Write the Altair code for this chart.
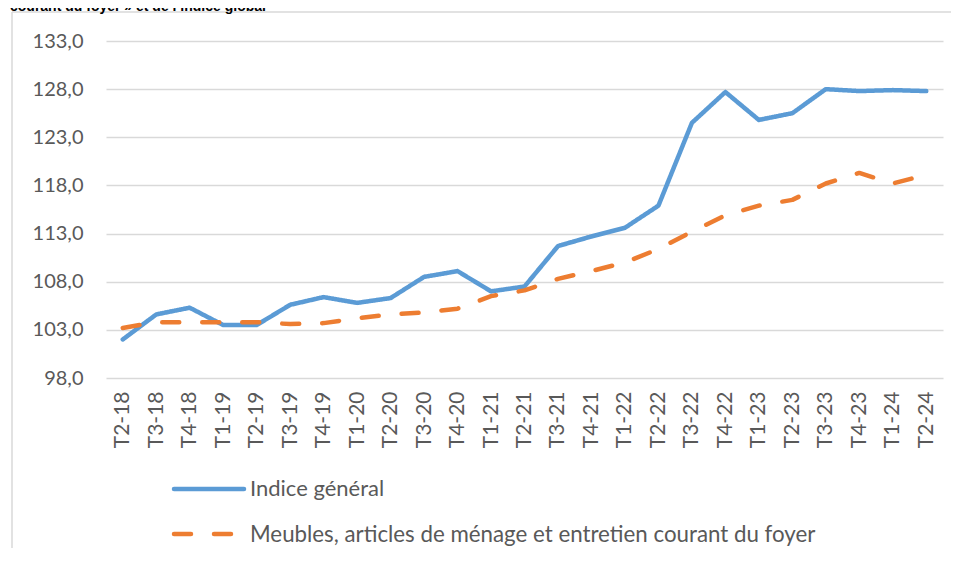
import altair as alt
import pandas as pd

quarters = ["T2-18", "T3-18", "T4-18", "T1-19", "T2-19", "T3-19", "T4-19", "T1-20",
            "T2-20", "T3-20", "T4-20", "T1-21", "T2-21", "T3-21", "T4-21", "T1-22",
            "T2-22", "T3-22", "T4-22", "T1-23", "T2-23", "T3-23", "T4-23", "T1-24", "T2-24"]
indice_general = [102.0, 104.6, 105.3, 103.5, 103.5, 105.6, 106.4, 105.8, 106.3, 108.5,
                  109.1, 107.0, 107.5, 111.7, 112.7, 113.6, 115.9, 124.5, 127.7, 124.8,
                  125.5, 128.0, 127.8, 127.9, 127.8]
meubles = [103.2, 103.8, 103.8, 103.8, 103.8, 103.6, 103.7, 104.2, 104.6, 104.8,
           105.2, 106.5, 107.1, 108.3, 109.1, 110.0, 111.4, 113.2, 114.9, 115.9,
           116.5, 118.2, 119.3, 118.2, 119.1]
series_names = ["Indice général",
                "Meubles, articles de ménage et entretien courant du foyer"]
y_ticks = [98, 103, 108, 113, 118, 123, 128, 133]
title_text = ["courant du foyer » et de l’indice global"]

BLUE = "#5B9BD5"
ORANGE = "#ED7D31"
GREY = "#595959"
GRID = "#D9D9D9"
FONT = "Lato"
DASH = [17, 23]

rows = []
for q, v in zip(quarters, indice_general):
    rows.append({"q": q, "v": v, "s": series_names[0]})
for q, v in zip(quarters, meubles):
    rows.append({"q": q, "v": v, "s": series_names[1]})
df = pd.DataFrame(rows)

x_enc = alt.X("q:N", sort=quarters, title=None,
              scale=alt.Scale(type="point", padding=0.5),
              axis=alt.Axis(labelAngle=-90, labelFont=FONT, labelFontSize=21,
                            labelColor=GREY, labelPadding=13, ticks=False,
                            domain=False, grid=False, labelBaseline="middle"))
y_enc = alt.Y("v:Q", title=None,
              scale=alt.Scale(domain=[98, 133], nice=False, zero=False),
              axis=alt.Axis(values=y_ticks, labelFont=FONT, labelFontSize=20,
                            labelColor=GREY, labelPadding=23, ticks=False,
                            domain=False, grid=True, gridColor=GRID, gridWidth=1.3,
                            labelExpr="replace(format(datum.value, '.1f'), '.', ',')"))

lines = alt.Chart(df).mark_line(strokeWidth=4.5, strokeCap="round", strokeJoin="round").encode(
    x=x_enc,
    y=y_enc,
    color=alt.Color("s:N", scale=alt.Scale(domain=series_names, range=[BLUE, ORANGE]), legend=None),
    strokeDash=alt.StrokeDash("s:N", scale=alt.Scale(domain=series_names, range=[[1, 0], DASH]),
                              legend=None),
)

leg_df = pd.DataFrame({"s": series_names})

leg_blue = alt.Chart(leg_df.iloc[[0]]).mark_rule(color=BLUE, strokeWidth=4.5, strokeCap="round").encode(
    x=alt.value(68), x2=alt.value(138), y=alt.value(448))
leg_orange = alt.Chart(leg_df.iloc[[1]]).mark_rule(color=ORANGE, strokeWidth=4.5, strokeCap="round",
                                                   strokeDash=DASH).encode(
    x=alt.value(68), x2=alt.value(132), y=alt.value(493))
leg_t1 = alt.Chart(leg_df.iloc[[0]]).mark_text(align="left", baseline="middle", font=FONT,
                                               fontSize=22, color=GREY).encode(
    x=alt.value(144), y=alt.value(448), text="s:N")
leg_t2 = alt.Chart(leg_df.iloc[[1]]).mark_text(align="left", baseline="middle", font=FONT,
                                               fontSize=22.3, color=GREY).encode(
    x=alt.value(144), y=alt.value(494), text="s:N")

frame_top = alt.Chart(leg_df.iloc[[0]]).mark_rule(color=GRID, strokeWidth=1.5).encode(
    x=alt.value(-94), x2=alt.value(845), y=alt.value(-29))
frame_left = alt.Chart(leg_df.iloc[[0]]).mark_rule(color=GRID, strokeWidth=1.5).encode(
    x=alt.value(-94), y=alt.value(-29), y2=alt.value(507))

title = alt.Chart(pd.DataFrame({"t": title_text})).mark_text(
    align="left", baseline="alphabetic", font="Liberation Sans", fontWeight="bold",
    fontSize=14, color="#000000").encode(x=alt.value(-96), y=alt.value(-30), text="t:N")

chart = alt.layer(frame_top, frame_left, title, lines, leg_blue, leg_orange, leg_t1, leg_t2).properties(
    width=837, height=337,
    autosize=alt.AutoSizeParams(type="none"),
    padding={"left": 98, "top": 33, "right": 8, "bottom": 170},
    background="white",
).configure_view(stroke=None)

chart.save("out.html", embed_options={"renderer": "svg", "actions": False})
